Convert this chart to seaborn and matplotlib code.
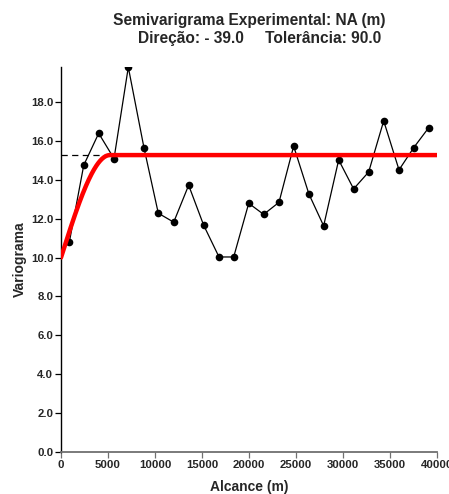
import numpy as np
import pandas as pd
import matplotlib
matplotlib.use("Agg")
import matplotlib.pyplot as plt
from matplotlib import font_manager
import seaborn as sns

# Experimental semivariogram (lag distance in m, semivariance)
lags = [880, 2420, 4010, 5640, 7160, 8830, 10350, 11990, 13580, 15180,
        16810, 18370, 19970, 21560, 23190, 24750, 26380, 27940, 29540,
        31130, 32730, 34330, 35960, 37520, 39120]
gamma = [10.78, 14.75, 16.39, 15.09, 19.79, 15.64, 12.28, 11.82, 13.72, 11.66,
         10.03, 10.03, 12.79, 12.22, 12.84, 15.73, 13.26, 11.63, 15.02,
         13.53, 14.40, 17.03, 14.51, 15.65, 16.68]

# Fitted spherical model
nugget = 10.0
sill = 15.27
model_range = 5200.0

x_ticks = [0, 5000, 10000, 15000, 20000, 25000, 30000, 35000, 40000]
y_ticks = [0.0, 2.0, 4.0, 6.0, 8.0, 10.0, 12.0, 14.0, 16.0, 18.0]

sns.set_style("white")

# pick the regular-width bold Liberation Sans file explicitly
bold_path = None
for f in font_manager.fontManager.ttflist:
    base = f.fname.split("/")[-1]
    if base == "LiberationSans-Bold.ttf":
        bold_path = f.fname
        break
if bold_path:
    fp = font_manager.FontProperties(fname=bold_path)
    plt.rcParams["font.family"] = [fp.get_name(), "DejaVu Sans"]
else:
    plt.rcParams["font.family"] = ["Liberation Sans", "DejaVu Sans"]
plt.rcParams["font.weight"] = "bold"


def font(size):
    if bold_path:
        return font_manager.FontProperties(fname=bold_path, size=size)
    return font_manager.FontProperties(family="Liberation Sans",
                                       weight="bold", size=size)


W, H = 449, 494
fig = plt.figure(figsize=(W / 100, H / 100), dpi=100)
ax = fig.add_axes([61 / W, 1 - 452 / H, (437 - 61) / W, (452 - 67) / H])

h = np.linspace(0, 40000, 800)
hr = np.minimum(h / model_range, 1.0)
model = nugget + (sill - nugget) * (1.5 * hr - 0.5 * hr ** 3)
df_model = pd.DataFrame({"h": h, "g": model})
df_exp = pd.DataFrame({"h": lags, "g": gamma})

ax.plot([0, model_range], [sill, sill], color="black", lw=0.9,
        dashes=(5, 3.5), zorder=1)
sns.lineplot(data=df_exp, x="h", y="g", ax=ax, color="black", lw=0.9,
             marker="o", markersize=5.5, markeredgewidth=0, zorder=2)
sns.lineplot(data=df_model, x="h", y="g", ax=ax, color="#ff0000", lw=3.2,
             zorder=3)

ax.set_xlim(0, 40000)
ax.set_ylim(0, 19.8)
ax.set_xticks(x_ticks)
ax.set_xticklabels([str(v) for v in x_ticks])
ax.set_yticks(y_ticks)
ax.set_yticklabels([f"{v:.1f}" for v in y_ticks])

for s in ["top", "right"]:
    ax.spines[s].set_visible(False)
ax.spines["left"].set_color("black")
ax.spines["left"].set_linewidth(1.0)
ax.spines["bottom"].set_color("#707070")
ax.spines["bottom"].set_linewidth(1.3)
ax.tick_params(axis="y", direction="out", length=4, width=0.9, color="black",
               pad=1.5)
ax.tick_params(axis="x", direction="out", length=4, width=0.9, color="#707070",
               pad=2)
ax.tick_params(left=True, bottom=True)
for lab in ax.get_xticklabels() + ax.get_yticklabels():
    lab.set_fontproperties(font(8.2))

ax.set_xlabel("Alcance (m)", fontproperties=font(10), labelpad=7)
ax.set_ylabel("Variograma", fontproperties=font(10), labelpad=3)

fig.text(249.5 / W, 1 - 20 / H, "Semivarigrama Experimental: NA (m)",
         ha="center", va="center", fontproperties=font(11.2))
fig.text(259.5 / W, 1 - 39 / H, "Direção: - 39.0     Tolerância: 90.0",
         ha="center", va="center", fontproperties=font(11.2))

fig.savefig("out.png", dpi=100)
